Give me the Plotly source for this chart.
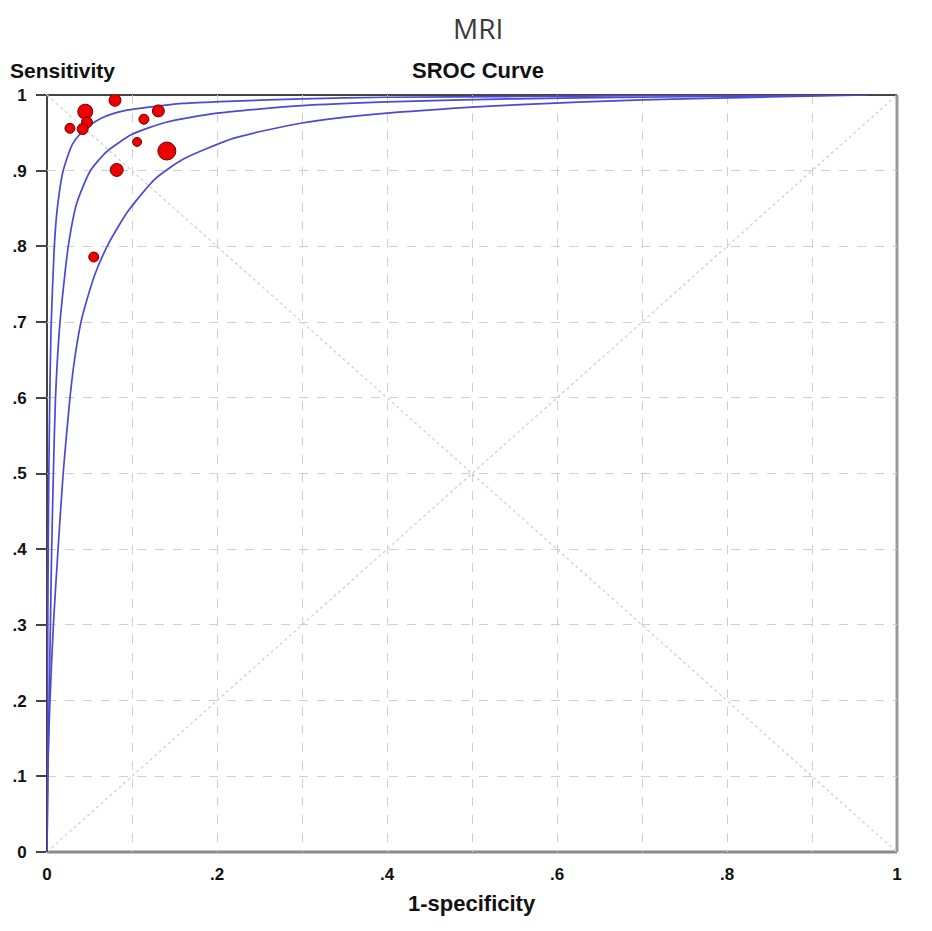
import plotly.graph_objects as go

# ---- data ----
study_fpr = [0.080, 0.045, 0.047, 0.027, 0.042, 0.114, 0.131, 0.106, 0.141, 0.082, 0.055]
study_sens = [0.993, 0.978, 0.964, 0.956, 0.955, 0.968, 0.979, 0.938, 0.926, 0.901, 0.786]
study_weight = [12, 15, 11, 10, 11, 10, 12, 9, 18, 13, 10]

curve_a_x = [0, 0.0003, 0.001, 0.002, 0.003, 0.0047, 0.0086, 0.012, 0.019, 0.03, 0.045,
             0.065, 0.09, 0.12, 0.16, 0.22, 0.3, 0.4, 0.55, 0.7, 0.85, 0.965]
curve_a_y = [0, 0.12, 0.32, 0.48, 0.58, 0.69, 0.80, 0.849, 0.9, 0.935, 0.956,
             0.970, 0.979, 0.984, 0.989, 0.992, 0.995, 0.997, 0.998, 0.999, 0.9995, 1.0]

curve_b_x = [0, 0.001, 0.0025, 0.004, 0.0055, 0.0075, 0.010, 0.0153, 0.025, 0.035, 0.051,
             0.07, 0.1, 0.14, 0.2, 0.3, 0.4, 0.55, 0.7, 0.85, 0.965]
curve_b_y = [0, 0.1, 0.2, 0.3, 0.4, 0.5, 0.6, 0.7, 0.8, 0.857, 0.9,
             0.925, 0.948, 0.964, 0.976, 0.986, 0.991, 0.995, 0.997, 0.999, 1.0]

curve_c_x = [0, 0.0008, 0.002, 0.0035, 0.0075, 0.013, 0.019, 0.027, 0.033, 0.041, 0.056,
             0.073, 0.095, 0.127, 0.16, 0.22, 0.3, 0.4, 0.55, 0.7, 0.85, 0.965]
curve_c_y = [0, 0.1, 0.15, 0.2, 0.3, 0.4, 0.5, 0.6, 0.655, 0.705, 0.762,
             0.805, 0.846, 0.889, 0.915, 0.943, 0.963, 0.976, 0.987, 0.9935, 0.9974, 1.0]

diag_up_x = [0, 1]
diag_up_y = [0, 1]
diag_down_x = [0, 1]
diag_down_y = [1, 0]

y_tickvals = [0, 0.1, 0.2, 0.3, 0.4, 0.5, 0.6, 0.7, 0.8, 0.9, 1.0]
y_ticktext = ["0", ".1", ".2", ".3", ".4", ".5", ".6", ".7", ".8", ".9", "1"]
x_tickvals = [0, 0.1, 0.2, 0.3, 0.4, 0.5, 0.6, 0.7, 0.8, 0.9, 1.0]
x_ticktext = ["0", "", ".2", "", ".4", "", ".6", "", ".8", "", "1"]

# ---- layout geometry ----
# The page body has an 8px margin, so page pixel p maps to figure pixel p - 8.
OFF = 8
W, H = 932 - 2 * OFF, 931 - 2 * OFF
PLOT_L, PLOT_R, PLOT_T, PLOT_B = 47, 897, 95, 852   # page pixels of the plot frame
L = PLOT_L - OFF
T = PLOT_T - OFF
R = W - (PLOT_R - OFF)
B = H - (PLOT_B - OFF)
PW, PH = W - L - R, H - T - B


def px(xpage):
    return (xpage - OFF - L) / PW


def py(ypage):
    return (H - B - (ypage - OFF)) / PH


fig = go.Figure()

diag_style = dict(color="#d6d6d6", width=1.5, dash="dot")
fig.add_trace(go.Scatter(x=diag_up_x, y=diag_up_y, mode="lines", line=diag_style,
                         hoverinfo="skip", showlegend=False))
fig.add_trace(go.Scatter(x=diag_down_x, y=diag_down_y, mode="lines", line=diag_style,
                         hoverinfo="skip", showlegend=False))

curve_style = dict(color="#4a4ad2", width=1.7, shape="spline", smoothing=0.6)
for cx, cy in [(curve_a_x, curve_a_y), (curve_b_x, curve_b_y), (curve_c_x, curve_c_y)]:
    fig.add_trace(go.Scatter(x=cx, y=cy, mode="lines", line=curve_style,
                             showlegend=False))

fig.add_trace(go.Scatter(
    x=study_fpr, y=study_sens, mode="markers",
    marker=dict(size=study_weight, color="#ee0000", opacity=1,
                line=dict(color="#6e0000", width=1)),
    showlegend=False))

tick_font = dict(family="Liberation Sans, Arial, sans-serif", size=17, color="#111111",
                 weight="bold")
grid_col = "#cfcfcf"

fig.update_xaxes(range=[0, 1], tickmode="array", tickvals=x_tickvals, ticktext=x_ticktext,
                 showgrid=True, gridcolor=grid_col, griddash="dash", gridwidth=1,
                 zeroline=False, showline=False, ticks="", tickfont=tick_font,
                 ticklabelstandoff=10, fixedrange=True, automargin=False)
fig.update_yaxes(range=[0, 1], tickmode="array", tickvals=y_tickvals, ticktext=y_ticktext,
                 showgrid=True, gridcolor=grid_col, griddash="dash", gridwidth=1,
                 zeroline=False, showline=False, ticks="outside", ticklen=10,
                 tickwidth=1.5, tickcolor="#444444", tickfont=tick_font,
                 ticklabelstandoff=6, fixedrange=True, automargin=False)

shapes = [
    dict(type="line", xref="paper", yref="paper", x0=0, x1=1, y0=1, y1=1,
         line=dict(color="#444444", width=2), layer="below"),
    dict(type="line", xref="paper", yref="paper", x0=0, x1=0, y0=0, y1=1,
         line=dict(color="#444444", width=2), layer="below"),
    dict(type="line", xref="paper", yref="paper", x0=0, x1=1, y0=0, y1=0,
         line=dict(color="#8a8a8a", width=3), layer="below"),
    dict(type="line", xref="paper", yref="paper", x0=1, x1=1, y0=0, y1=1,
         line=dict(color="#999999", width=3), layer="below"),
]

bold = dict(family="Liberation Sans, Arial, sans-serif", size=22, color="#111111")
annotations = [
    dict(text="MRI", x=px(478), y=py(OFF), xref="paper", yref="paper", showarrow=False,
         xanchor="center", yanchor="top", borderpad=0,
         font=dict(family="Open Sans, sans-serif", size=28, color="#3a3a3a")),
    dict(text="<b>Sensitivity</b>", x=px(OFF + 1), y=py(70), xref="paper", yref="paper",
         showarrow=False, xanchor="left", yanchor="middle", borderpad=0,
         font=dict(family="Liberation Sans, Arial, sans-serif", size=21, color="#111111")),
    dict(text="<b>SROC Curve</b>", x=px(478), y=py(70), xref="paper", yref="paper",
         showarrow=False, xanchor="center", yanchor="middle", font=bold),
    dict(text="<b>1-specificity</b>", x=px(472), y=py(903), xref="paper", yref="paper",
         showarrow=False, xanchor="center", yanchor="middle", font=bold),
]

fig.update_layout(
    width=W, height=H,
    margin=dict(l=L, r=R, t=T, b=B, pad=0),
    paper_bgcolor="white", plot_bgcolor="white",
    shapes=shapes, annotations=annotations,
    showlegend=False,
)

fig.write_html("out.html")
